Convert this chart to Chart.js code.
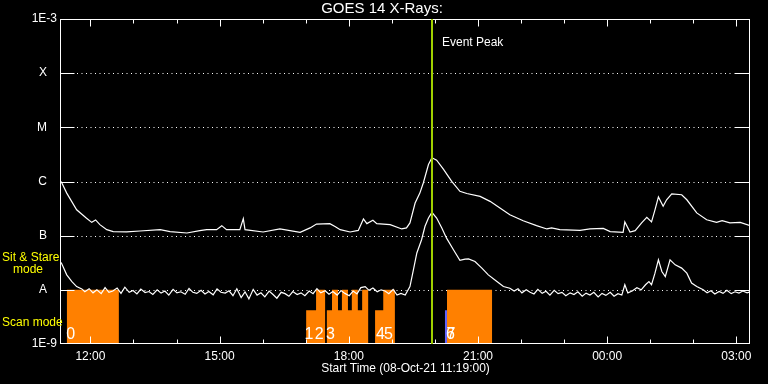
<!DOCTYPE html>
<html><head><meta charset="utf-8">
<script src="https://cdn.jsdelivr.net/npm/chart.js@4.4.1/dist/chart.umd.min.js"></script>
<style>html,body{margin:0;background:#000}canvas{display:block}</style>
</head><body>
<canvas id="c" width="768" height="384"></canvas>
<script>
// GOES 14 X-ray flux. Time is decimal hours of 08-Oct-21 (24+ = next day).
const T0 = 11.3167, T1 = 27.3167;
const xTickHours = [12, 15, 18, 21, 24, 27];
const xTickLabels = ['12:00', '15:00', '18:00', '21:00', '00:00', '03:00'];
const yTickValues = [1e-9, 1e-8, 1e-7, 1e-6, 1e-5, 1e-4, 1e-3];
const yTickLabels = ['1E-9', 'A   ', 'B   ', 'C   ', 'M   ', 'X   ', '1E-3'];

// 1-8 A channel
const longFlux = [
  [11.32,1.0e-6],[11.45,6.1e-7],[11.68,3.0e-7],[11.91,2.1e-7],[12.03,1.76e-7],[12.12,1.95e-7],[12.22,1.6e-7],
  [12.38,1.29e-7],[12.53,1.19e-7],[12.84,1.17e-7],[13.15,1.22e-7],[13.62,1.29e-7],[13.85,1.19e-7],[14.24,1.12e-7],
  [14.54,1.24e-7],[14.70,1.29e-7],[14.93,1.29e-7],[15.05,1.53e-7],[15.16,1.29e-7],[15.47,1.29e-7],[15.55,2.06e-7],
  [15.59,1.29e-7],[16.01,1.17e-7],[16.40,1.33e-7],[16.87,1.15e-7],[17.10,1.39e-7],[17.25,1.64e-7],[17.56,1.67e-7],
  [17.68,1.48e-7],[17.80,1.29e-7],[18.03,1.17e-7],[18.22,1.25e-7],[18.34,2.03e-7],[18.42,1.67e-7],[18.56,1.92e-7],
  [18.65,1.67e-7],[18.96,1.6e-7],[19.23,1.33e-7],[19.34,1.39e-7],[19.42,1.72e-7],[19.54,4.0e-7],[19.65,6.1e-7],
  [19.73,9.4e-7],[19.85,2.06e-6],[19.93,2.74e-6],[20.04,2.47e-6],[20.20,1.67e-6],[20.39,1.01e-6],[20.58,6.6e-7],
  [20.74,6.0e-7],[21.05,5.3e-7],[21.28,4.3e-7],[21.51,3.24e-7],[21.74,2.44e-7],[22.05,1.89e-7],[22.36,1.53e-7],
  [22.60,1.33e-7],[22.71,1.39e-7],[22.90,1.29e-7],[23.37,1.25e-7],[23.60,1.33e-7],[23.91,1.36e-7],[24.07,1.19e-7],
  [24.37,1.15e-7],[24.41,1.79e-7],[24.53,1.17e-7],[24.65,1.24e-7],[24.80,1.72e-7],[24.92,2.18e-7],[25.03,1.79e-7],
  [25.11,3.0e-7],[25.19,5.2e-7],[25.30,3.5e-7],[25.38,4.6e-7],[25.50,5.9e-7],[25.73,5.7e-7],[25.85,4.6e-7],
  [26.08,2.63e-7],[26.31,1.97e-7],[26.54,1.76e-7],[26.67,1.89e-7],[26.85,1.72e-7],[27.09,1.76e-7],[27.32,1.53e-7]
];

// 0.5-4 A channel
const shortFlux = [
  [11.32,3.2e-8],[11.45,1.89e-8],[11.57,1.42e-8],[11.68,1.15e-8],[11.80,1.04e-8],
  [11.87,0.92e-8],[11.97,1.05e-8],[12.06,0.88e-8],[12.15,1.0e-8],[12.25,0.85e-8],[12.34,1.1e-8],[12.43,0.9e-8],
  [12.52,0.95e-8],[12.62,1.08e-8],[12.71,0.86e-8],[12.80,1.12e-8],[12.90,0.9e-8],[12.99,0.97e-8],[13.08,0.84e-8],
  [13.17,1.03e-8],[13.27,0.89e-8],[13.36,0.93e-8],[13.45,0.82e-8],[13.55,1.0e-8],[13.64,0.87e-8],[13.73,0.95e-8],
  [13.82,0.8e-8],[13.92,1.02e-8],[14.01,0.88e-8],[14.10,0.92e-8],[14.20,0.83e-8],[14.29,1.06e-8],[14.38,0.9e-8],
  [14.47,0.86e-8],[14.57,0.98e-8],[14.66,0.84e-8],[14.75,0.93e-8],[14.85,0.81e-8],[14.94,1.04e-8],[15.03,0.9e-8],
  [15.13,0.87e-8],[15.22,0.96e-8],[15.31,0.78e-8],[15.40,1.05e-8],[15.50,0.72e-8],[15.59,0.92e-8],[15.68,0.68e-8],
  [15.78,1.02e-8],[15.87,0.8e-8],[15.96,0.88e-8],[16.05,0.74e-8],[16.15,0.95e-8],[16.24,0.82e-8],[16.33,0.7e-8],
  [16.43,0.9e-8],[16.52,0.85e-8],[16.61,0.76e-8],[16.70,0.93e-8],[16.80,0.82e-8],[16.89,0.88e-8],[16.98,0.78e-8],
  [17.08,0.95e-8],[17.17,0.85e-8],[17.26,1.05e-8],[17.35,0.88e-8],[17.45,0.96e-8],[17.54,0.83e-8],[17.63,0.93e-8],
  [17.73,0.8e-8],[17.82,0.97e-8],[17.91,0.86e-8],[18.01,0.78e-8],[18.10,0.95e-8],[18.19,0.84e-8],[18.28,1.1e-8],
  [18.38,1.15e-8],[18.47,0.98e-8],[18.56,1.08e-8],[18.66,0.92e-8],[18.75,1.0e-8],[18.84,0.95e-8],[18.93,0.85e-8],
  [19.03,1.02e-8],[19.12,0.8e-8],[19.21,0.86e-8],[19.31,0.8e-8],
  [19.42,1.15e-8],[19.50,2.34e-8],[19.58,4.8e-8],[19.69,8.4e-8],[19.77,1.49e-7],[19.85,2.12e-7],[19.93,2.69e-7],
  [20.04,2.12e-7],[20.16,1.39e-7],[20.27,9.0e-8],[20.43,5.5e-8],[20.58,3.5e-8],[20.70,3.7e-8],[20.78,3.73e-8],
  [20.93,3.33e-8],[21.09,2.52e-8],[21.24,1.89e-8],[21.44,1.42e-8],[21.59,1.15e-8],[21.74,1.07e-8],
  [21.84,0.95e-8],[21.93,1.05e-8],[22.02,0.88e-8],[22.12,1.0e-8],[22.21,0.9e-8],[22.30,0.84e-8],[22.39,1.02e-8],
  [22.49,0.86e-8],[22.58,0.94e-8],[22.67,0.8e-8],[22.77,0.98e-8],[22.86,0.85e-8],[22.95,0.9e-8],[23.04,0.78e-8],
  [23.14,0.88e-8],[23.23,0.82e-8],[23.32,0.92e-8],[23.42,0.76e-8],[23.51,0.87e-8],[23.60,0.8e-8],[23.69,0.9e-8],
  [23.79,0.74e-8],[23.88,0.86e-8],[23.97,0.79e-8],[24.07,0.9e-8],[24.16,0.76e-8],[24.25,0.85e-8],[24.34,0.8e-8],
  [24.41,1.24e-8],[24.48,0.88e-8],[24.58,0.95e-8],[24.69,1.09e-8],[24.79,1.0e-8],[24.89,1.24e-8],[24.97,1.42e-8],
  [25.03,1.24e-8],[25.11,2.03e-8],[25.19,3.58e-8],[25.27,2.18e-8],[25.35,1.76e-8],[25.46,3.58e-8],[25.58,2.89e-8],
  [25.73,2.52e-8],[25.85,2.03e-8],[25.96,1.33e-8],[26.08,1.15e-8],[26.23,1.0e-8],[26.32,0.88e-8],[26.41,0.96e-8],
  [26.50,0.84e-8],[26.60,0.93e-8],[26.69,0.86e-8],[26.78,0.98e-8],[26.88,0.85e-8],[26.97,0.92e-8],[27.06,0.87e-8],
  [27.15,0.95e-8],[27.25,0.88e-8],[27.32,0.92e-8]
];

// instrument mode bars: [start, end, level]
const SCAN = 4.2e-9, SIT = 1e-8;
const modeSpans = [
  [11.45,12.66,SIT],
  [17.01,17.24,SCAN],[17.24,17.45,SIT],
  [17.49,17.61,SCAN],[17.61,17.75,SIT],[17.75,17.84,SCAN],[17.84,17.98,SIT],[17.98,18.07,SCAN],
  [18.07,18.21,SIT],[18.21,18.31,SCAN],[18.31,18.45,SIT],
  [18.61,18.80,SCAN],[18.80,19.07,SIT],
  [20.28,21.33,SIT]
];
const blueSpans = [[20.23,20.28,SCAN]];
const modeLabels = ['0', '1', '2', '3', '4', '5', '6', '7'];
const modeLabelHours = [11.44, 16.97, 17.21, 17.47, 18.63, 18.82, 20.26, 20.27];
const eventPeak = 19.93;

const FONT = 'Liberation Sans';
const pts = (arr) => arr.map(([x, y]) => ({ x, y }));
const bars = (spans) => spans.flatMap(([s, e, v]) => [{ x: s, y: 1e-9 }, { x: s, y: v }, { x: e, y: v }, { x: e, y: 1e-9 }]);

const frame = {
  id: 'frame',
  beforeDatasetsDraw(chart) {
    const { ctx, chartArea: a, scales: { y } } = chart;
    ctx.save();
    ctx.strokeStyle = '#fff'; ctx.lineWidth = 1; ctx.setLineDash([1, 3.5]);
    for (const v of yTickValues.slice(1, -1)) {
      const py = Math.round(y.getPixelForValue(v)) + 0.5;
      ctx.beginPath(); ctx.moveTo(a.left + 16, py); ctx.lineTo(a.right - 16, py); ctx.stroke();
    }
    ctx.restore();
  },
  afterDatasetsDraw(chart) {
    const { ctx, chartArea: a, scales: { x, y } } = chart;
    const L = Math.round(a.left) - 0.5, R = Math.round(a.right) - 0.5, T = Math.round(a.top) + 0.5, B = Math.round(a.bottom) - 0.5;
    ctx.save();
    ctx.strokeStyle = '#fff'; ctx.lineWidth = 1;
    ctx.strokeRect(L, T, R - L, B - T);
    ctx.beginPath();
    for (const v of yTickValues.slice(1, -1)) {
      const py = Math.round(y.getPixelForValue(v)) + 0.5;
      ctx.moveTo(L, py); ctx.lineTo(L + 14, py);
      ctx.moveTo(R - 15, py); ctx.lineTo(R, py);
    }
    for (let h = 12; h <= 27; h++) {
      const px = Math.round(x.getPixelForValue(h)) + 0.5, len = h % 3 === 0 ? 7 : 4;
      ctx.moveTo(px, B); ctx.lineTo(px, B - len);
      ctx.moveTo(px, T); ctx.lineTo(px, T + len);
    }
    ctx.stroke();

    // event peak marker
    const ex = Math.round(x.getPixelForValue(eventPeak));
    ctx.strokeStyle = '#a0d000'; ctx.lineWidth = 2;
    ctx.beginPath(); ctx.moveTo(ex, a.top); ctx.lineTo(ex, a.bottom); ctx.stroke();

    ctx.fillStyle = '#fff'; ctx.textBaseline = 'middle'; ctx.textAlign = 'left';
    ctx.font = '12px "' + FONT + '"';
    ctx.fillText('Event Peak', ex + 10, 43);
    ctx.textAlign = 'center'; ctx.font = '15px "' + FONT + '"';
    ctx.fillText('GOES 14 X-Rays:', 382, 9);

    // mode numbers
    ctx.textAlign = 'left'; ctx.textBaseline = 'alphabetic'; ctx.font = '16px "' + FONT + '"';
    modeLabels.forEach((t, i) => ctx.fillText(t, x.getPixelForValue(modeLabelHours[i]), 339));

    ctx.fillStyle = '#ffff00'; ctx.textBaseline = 'middle'; ctx.font = '12px "' + FONT + '"';
    ctx.fillText('Sit & Stare', 2, 258);
    ctx.fillText('mode', 13, 270);
    ctx.fillText('Scan mode', 2, 323);
    ctx.restore();
  }
};

new Chart(document.getElementById('c'), {
  type: 'line',
  data: {
    datasets: [
      { data: pts(longFlux), borderColor: '#fff', borderWidth: 1.2, pointRadius: 0, order: 1 },
      { data: pts(shortFlux), borderColor: '#fff', borderWidth: 1.2, pointRadius: 0, order: 1 },
      { data: bars(modeSpans), borderWidth: 0, pointRadius: 0, fill: 'start', backgroundColor: '#ff8000', order: 3 },
      { data: bars(blueSpans), borderWidth: 0, pointRadius: 0, fill: 'start', backgroundColor: '#6464ff', order: 3 }
    ]
  },
  options: {
    responsive: false, devicePixelRatio: 1, animation: false, events: [],
    layout: { padding: { top: 19, right: 18, left: 0, bottom: 0 } },
    plugins: { legend: { display: false }, tooltip: { enabled: false }, title: { display: false } },
    scales: {
      x: {
        type: 'linear', min: T0, max: T1,
        afterBuildTicks: (s) => { s.ticks = xTickHours.map((v) => ({ value: v })); },
        afterFit: (s) => { s.height = 40; },
        grid: { display: false, drawTicks: false }, border: { display: false },
        ticks: { color: '#fff', padding: 5, maxRotation: 0, autoSkip: false, font: { family: FONT, size: 12 },
          callback: (v) => xTickLabels[xTickHours.indexOf(v)] },
        title: { display: true, text: 'Start Time (08-Oct-21 11:19:00)', color: '#fff', font: { family: FONT, size: 12 }, padding: { top: 0, bottom: 8 } }
      },
      y: {
        type: 'logarithmic', min: 1e-9, max: 1e-3,
        afterBuildTicks: (s) => { s.ticks = yTickValues.map((v) => ({ value: v })); },
        afterFit: (s) => { s.width = 61; },
        grid: { display: false, drawTicks: false }, border: { display: false },
        ticks: { color: '#fff', padding: 4, autoSkip: false, font: { family: FONT, size: 12 },
          callback: (v) => yTickLabels[yTickValues.indexOf(v)] }
      }
    }
  },
  plugins: [frame]
});
</script>
</body></html>
